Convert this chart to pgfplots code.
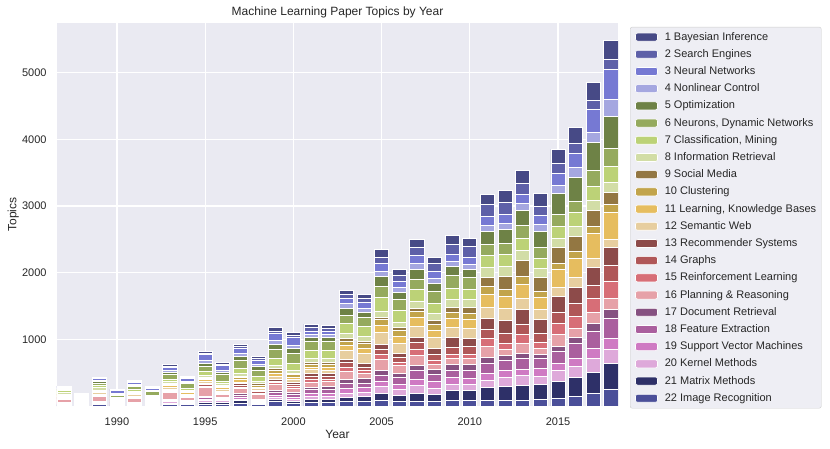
\documentclass[border=0pt]{standalone}
\usepackage{pgfplots}
\usepackage{pgfplotstable}
\pgfplotsset{compat=1.18}
\usepackage{fontspec}
\setmainfont{Liberation Sans}
\definecolor{bg}{HTML}{EAEAF2}
\definecolor{legbg}{HTML}{EEEEF4}
\definecolor{legdraw}{HTML}{CCCCCC}
\definecolor{txt}{HTML}{262626}
\definecolor{c1}{HTML}{474A86}
\definecolor{c2}{HTML}{5E60A8}
\definecolor{c3}{HTML}{7679D3}
\definecolor{c4}{HTML}{A5A7E0}
\definecolor{c5}{HTML}{6E8246}
\definecolor{c6}{HTML}{95AA5E}
\definecolor{c7}{HTML}{BCD277}
\definecolor{c8}{HTML}{D2DDA6}
\definecolor{c9}{HTML}{937742}
\definecolor{c10}{HTML}{C2A44B}
\definecolor{c11}{HTML}{E6BD5F}
\definecolor{c12}{HTML}{E7CE9F}
\definecolor{c13}{HTML}{8D4B4A}
\definecolor{c14}{HTML}{B05758}
\definecolor{c15}{HTML}{D76E77}
\definecolor{c16}{HTML}{E6A1A8}
\definecolor{c17}{HTML}{865181}
\definecolor{c18}{HTML}{AA5F9E}
\definecolor{c19}{HTML}{CF7AC3}
\definecolor{c20}{HTML}{DEA9DA}
\definecolor{c21}{HTML}{2E3068}
\definecolor{c22}{HTML}{4B4F99}
\pgfplotstableread{
year t1 t2 t3 t4 t5 t6 t7 t8 t9 t10 t11 t12 t13 t14 t15 t16 t17 t18 t19 t20 t21 t22
1987 5 10 15 15 10 15 20 30 5 10 15 20 5 10 15 50 5 5 5 10 10 15
1988 5 10 25 10 10 25 15 15 5 5 5 10 5 5 5 10 5 5 5 5 5 5
1989 10 10 30 15 25 30 30 45 10 10 20 20 10 15 15 65 10 10 10 10 15 20
1990 10 10 45 10 10 35 15 15 5 5 10 15 5 5 5 15 5 5 5 5 5 10
1991 15 15 35 15 20 45 25 20 5 10 15 20 10 10 15 55 5 10 10 10 10 15
1992 10 10 30 10 15 50 20 15 5 5 10 15 5 5 10 20 5 10 10 10 10 10
1993 20 20 50 25 35 70 30 30 10 15 35 25 15 20 20 95 10 15 15 20 20 25
1994 15 15 45 15 25 75 25 20 5 10 20 20 10 10 15 45 10 10 10 15 15 20
1995 25 25 90 40 40 85 55 30 10 15 35 35 15 20 25 135 15 20 20 25 30 30
1996 20 25 75 20 35 100 40 30 10 15 30 25 15 20 20 35 15 20 20 25 25 30
1997 35 30 80 40 60 125 65 45 20 30 40 25 30 20 20 80 25 30 25 20 40 45
1998 25 35 60 30 60 90 70 40 20 30 25 25 20 20 25 75 15 15 15 15 15 20
1999 55 30 110 60 75 140 100 50 25 50 35 55 25 20 25 85 30 50 30 35 30 65
2000 40 35 115 50 75 150 100 40 20 40 35 45 30 30 25 60 30 45 40 25 25 45
2001 55 50 50 40 65 135 115 60 35 40 35 65 40 50 35 75 40 50 45 50 40 60
2002 45 50 45 50 60 130 115 60 35 40 45 55 40 45 35 70 50 50 50 45 45 55
2003 70 60 75 75 95 125 145 85 35 60 80 140 45 65 60 125 65 75 65 70 60 65
2004 65 60 80 60 85 130 150 70 40 65 75 150 60 45 45 85 65 60 75 65 75 70
2005 115 95 115 80 140 170 210 85 40 80 110 175 75 75 85 155 85 85 80 100 105 85
2006 85 90 95 75 110 155 185 80 45 85 105 150 55 75 55 110 65 100 85 80 95 70
2007 120 125 110 90 150 150 180 105 55 90 135 160 80 95 90 150 85 125 100 110 125 70
2008 85 115 110 75 125 170 160 105 60 80 110 160 100 85 60 80 75 100 100 95 105 70
2009 130 150 105 85 135 185 165 125 80 85 140 150 140 105 60 100 80 110 100 100 150 80
2010 130 160 100 75 125 175 150 125 90 85 140 145 130 115 65 90 80 120 95 95 150 80
2011 155 180 125 95 190 165 190 140 145 115 195 165 160 135 130 160 85 150 105 110 190 90
2012 180 175 135 90 210 175 180 145 200 95 190 175 195 145 90 90 80 150 105 135 205 90
2013 190 175 125 105 235 190 185 150 240 110 210 165 225 160 125 150 80 160 100 140 225 90
2014 190 140 135 100 240 165 160 135 205 85 190 150 200 135 100 85 65 150 110 125 230 95
2015 215 150 175 125 315 175 175 145 230 100 260 140 235 175 165 175 70 190 100 160 265 110
2016 230 150 220 140 360 175 205 150 220 115 285 140 250 185 180 145 90 225 115 170 280 145
2017 265 140 335 155 420 240 210 150 240 110 365 135 275 200 200 175 115 260 150 200 325 185
2018 285 140 450 260 475 270 240 155 185 110 405 130 265 235 260 160 135 310 160 215 385 250
}\data
\pgfplotsset{
  seg/.style={fill=#1, draw=white, line width=0.8pt,
    legend image code/.code={\draw[fill=#1, draw=white, line width=0.6pt] (0pt,-4pt) rectangle (22pt,4pt);}},
}
\begin{document}
\begin{tikzpicture}
\path[use as bounding box] (0pt,0pt) rectangle (830pt,448pt);
\begin{axis}[
  at={(57pt,42pt)}, anchor=south west,
  scale only axis, width=561pt, height=383.3pt,
  xmin=1986.6, xmax=2018.4, ymin=0, ymax=5750,
  ybar stacked, bar width=0.8,
  axis background/.style={fill=bg},
  axis line style={draw=none},
  grid=major, major grid style={white, line width=1.1pt},
  tick style={draw=none},
  xtick={1990,1995,...,2015}, ytick={1000,2000,...,5000},
  /pgf/number format/assume math mode=true,
  /pgf/number format/1000 sep={},
  ticklabel style={font=\fontsize{11}{13}\selectfont, text=txt, inner sep=0pt},
  xticklabel style={anchor=base, yshift=-19.5pt},
  yticklabel style={anchor=east, xshift=-10.3pt},
  xlabel={Year}, ylabel={Topics},
  label style={font=\fontsize{12}{14}\selectfont, text=txt, inner sep=0pt},
  xlabel style={at={(0.5,-0.0843)}, anchor=base},
  ylabel style={at={(-0.0722,0.5)}, anchor=base},
  title={Machine Learning Paper Topics by Year},
  title style={font=\fontsize{12}{14}\selectfont, text=txt, inner sep=0pt, at={(0.5,1.004)}, anchor=base},
  reverse legend,
  legend cell align=left,
  legend style={at={(1.0214,0.989)}, anchor=north west, fill=legbg, draw=legdraw,
    rounded corners=2pt, font=\fontsize{11}{13}\selectfont, text=txt,
    row sep=7.3pt, column sep=7pt, inner xsep=5pt, inner ysep=5pt,
    nodes={inner sep=0pt, text height=7.9pt, text depth=2pt}},
]
\addplot[seg=c22] table[x=year,y=t22]{\data};
\addplot[seg=c21] table[x=year,y=t21]{\data};
\addplot[seg=c20] table[x=year,y=t20]{\data};
\addplot[seg=c19] table[x=year,y=t19]{\data};
\addplot[seg=c18] table[x=year,y=t18]{\data};
\addplot[seg=c17] table[x=year,y=t17]{\data};
\addplot[seg=c16] table[x=year,y=t16]{\data};
\addplot[seg=c15] table[x=year,y=t15]{\data};
\addplot[seg=c14] table[x=year,y=t14]{\data};
\addplot[seg=c13] table[x=year,y=t13]{\data};
\addplot[seg=c12] table[x=year,y=t12]{\data};
\addplot[seg=c11] table[x=year,y=t11]{\data};
\addplot[seg=c10] table[x=year,y=t10]{\data};
\addplot[seg=c9] table[x=year,y=t9]{\data};
\addplot[seg=c8] table[x=year,y=t8]{\data};
\addplot[seg=c7] table[x=year,y=t7]{\data};
\addplot[seg=c6] table[x=year,y=t6]{\data};
\addplot[seg=c5] table[x=year,y=t5]{\data};
\addplot[seg=c4] table[x=year,y=t4]{\data};
\addplot[seg=c3] table[x=year,y=t3]{\data};
\addplot[seg=c2] table[x=year,y=t2]{\data};
\addplot[seg=c1] table[x=year,y=t1]{\data};
\legend{22 Image Recognition,21 Matrix Methods,20 Kernel Methods,19 Support Vector Machines,18 Feature Extraction,17 Document Retrieval,16 Planning \& Reasoning,15 Reinforcement Learning,14 Graphs,13 Recommender Systems,12 Semantic Web,11 Learning{,} Knowledge Bases,10 Clustering,9 Social Media,8 Information Retrieval,7 Classification{,} Mining,6 Neurons{,} Dynamic Networks,5 Optimization,4 Nonlinear Control,3 Neural Networks,2 Search Engines,1 Bayesian Inference}
\end{axis}
\end{tikzpicture}
\end{document}
